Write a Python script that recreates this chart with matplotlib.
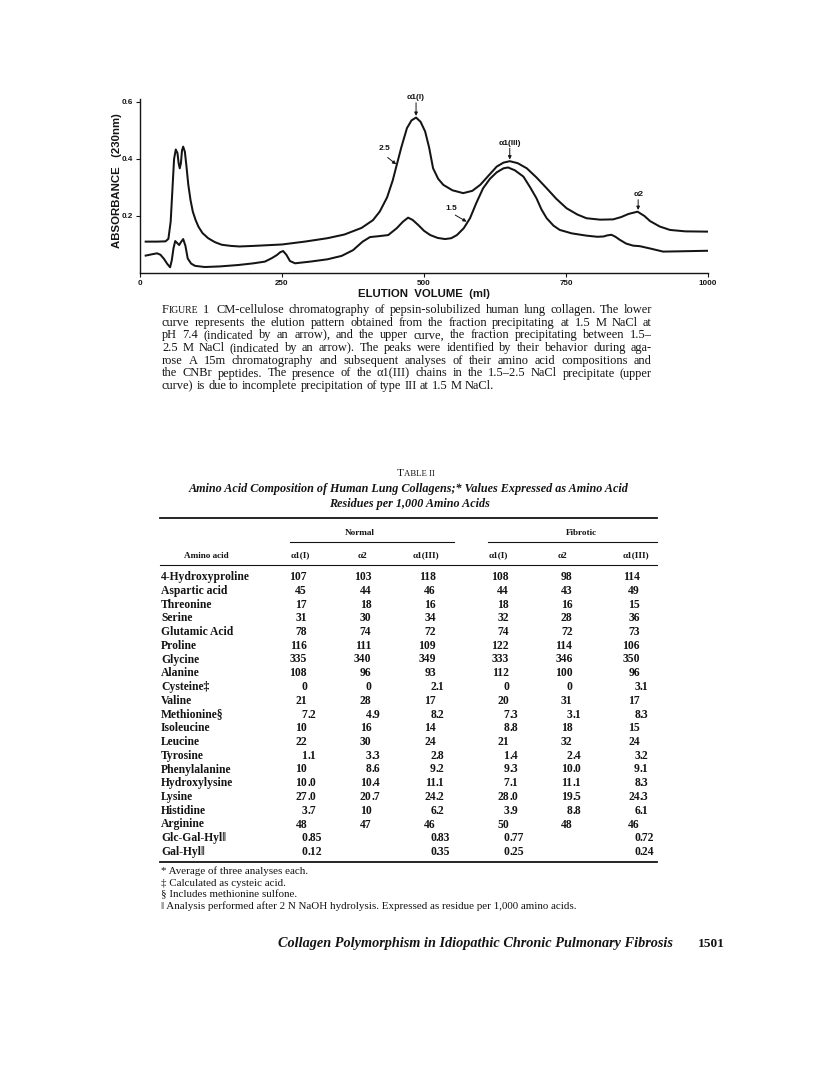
import matplotlib
matplotlib.use("Agg")
import matplotlib.pyplot as plt

# ---------------- data ----------------
# Upper curve (fraction precipitating between 1.5-2.5 M NaCl)
upper_x = [10, 30, 45, 50, 54, 57, 60, 63, 66, 68, 70, 72, 74, 76, 79, 82, 85, 89, 93, 98,
           103, 110, 120, 132, 144, 160, 175, 200, 250, 290, 330, 360, 390, 410, 422, 435,
           445, 452, 460, 470, 478, 486, 494, 502, 509, 516, 525, 534, 550, 569, 585, 599,
           613, 628, 640, 651, 665, 681, 698, 716, 733, 751, 770, 786, 810, 833, 847, 860,
           876, 888, 898, 915, 933, 960, 1000]
upper_y = [0.110, 0.110, 0.111, 0.120, 0.180, 0.290, 0.400, 0.433, 0.420, 0.385, 0.367, 0.385,
           0.430, 0.443, 0.425, 0.370, 0.310, 0.255, 0.215, 0.185, 0.162, 0.140, 0.122, 0.108,
           0.099, 0.095, 0.093, 0.095, 0.100, 0.110, 0.122, 0.135, 0.158, 0.185, 0.215, 0.265,
           0.325, 0.379, 0.440, 0.508, 0.535, 0.545, 0.530, 0.496, 0.440, 0.367, 0.330, 0.309,
           0.290, 0.280, 0.288, 0.309, 0.340, 0.373, 0.387, 0.392, 0.385, 0.367, 0.335, 0.297,
           0.260, 0.227, 0.205, 0.192, 0.187, 0.188, 0.196, 0.207, 0.215, 0.200, 0.182, 0.163,
           0.151, 0.146, 0.145]
# Lower curve (fraction precipitating at 1.5 M NaCl)
lower_x = [10, 22, 30, 36, 42, 48, 53, 56, 59, 62, 65, 69, 72, 76, 80, 84, 90, 97, 114, 140,
           173, 200, 220, 232, 241, 247, 252, 258, 264, 273, 300, 330, 355, 375, 392, 405, 420,
           437, 452, 463, 472, 480, 490, 500, 511, 524, 537, 548, 558, 570, 581, 592, 604, 616,
           628, 640, 648, 660, 675, 687, 698, 707, 716, 728, 739, 760, 786, 805, 816, 823, 830,
           837, 845, 856, 868, 880, 900, 921, 950, 1000]
lower_y = [0.061, 0.066, 0.069, 0.064, 0.050, 0.032, 0.020, 0.045, 0.087, 0.112, 0.106, 0.098,
           0.108, 0.119, 0.095, 0.051, 0.033, 0.025, 0.021, 0.023, 0.028, 0.034, 0.040, 0.052,
           0.063, 0.073, 0.077, 0.063, 0.042, 0.034, 0.040, 0.048, 0.060, 0.080, 0.110, 0.126,
           0.129, 0.133, 0.157, 0.180, 0.194, 0.186, 0.168, 0.148, 0.133, 0.123, 0.119, 0.122,
           0.133, 0.157, 0.192, 0.245, 0.297, 0.330, 0.353, 0.367, 0.370, 0.360, 0.338, 0.300,
           0.262, 0.222, 0.192, 0.166, 0.151, 0.139, 0.131, 0.127, 0.128, 0.132, 0.134, 0.127,
           0.116, 0.103, 0.096, 0.094, 0.085, 0.075, 0.076, 0.078]

x_ticks = [0, 250, 500, 750, 1000]
x_tick_labels = ["0", "250", "500", "750", "1000"]
y_ticks = [0.2, 0.4, 0.6]
y_tick_labels = ["0.2", "0.4", "0.6"]

peak_labels = ["α1(I)", "α1(III)", "α2"]
peak_x = [486, 651, 877]
peak_y = [0.545, 0.392, 0.215]
curve_labels = ["2.5", "1.5"]

amino_acids = ["4-Hydroxyproline", "Aspartic acid", "Threonine", "Serine", "Glutamic Acid",
               "Proline", "Glycine", "Alanine", "Cysteine‡", "Valine", "Methionine§",
               "Isoleucine", "Leucine", "Tyrosine", "Phenylalanine", "Hydroxylysine", "Lysine",
               "Histidine", "Arginine", "Glc-Gal-Hyl‖", "Gal-Hyl‖"]
normal_a1I = ["107", "45", "17", "31", "78", "116", "335", "108", "0", "21", "7.2", "10", "22",
              "1.1", "10", "10.0", "27.0", "3.7", "48", "0.85", "0.12"]
normal_a2 = ["103", "44", "18", "30", "74", "111", "340", "96", "0", "28", "4.9", "16", "30",
             "3.3", "8.6", "10.4", "20.7", "10", "47", "", ""]
normal_a1III = ["118", "46", "16", "34", "72", "109", "349", "93", "2.1", "17", "8.2", "14", "24",
                "2.8", "9.2", "11.1", "24.2", "6.2", "46", "0.83", "0.35"]
fibrotic_a1I = ["108", "44", "18", "32", "74", "122", "333", "112", "0", "20", "7.3", "8.8", "21",
                "1.4", "9.3", "7.1", "28.0", "3.9", "50", "0.77", "0.25"]
fibrotic_a2 = ["98", "43", "16", "28", "72", "114", "346", "100", "0", "31", "3.1", "18", "32",
               "2.4", "10.0", "11.1", "19.5", "8.8", "48", "", ""]
fibrotic_a1III = ["114", "49", "15", "36", "73", "106", "350", "96", "3.1", "17", "8.3", "15", "24",
                  "3.2", "9.1", "8.3", "24.3", "6.1", "46", "0.72", "0.24"]
column_headers = ["α1(I)", "α2", "α1(III)", "α1(I)", "α2", "α1(III)"]
group_headers = ["Normal", "Fibrotic"]

caption_lines = [
    "CM-cellulose chromatography of pepsin-solubilized human lung collagen. The lower",
    "curve represents the elution pattern obtained from the fraction precipitating at 1.5 M NaCl at",
    "pH 7.4 (indicated by an arrow), and the upper curve, the fraction precipitating between 1.5–",
    "2.5 M NaCl (indicated by an arrow). The peaks were identified by their behavior during aga-",
    "rose A 15m chromatography and subsequent analyses of their amino acid compositions and",
    "the CNBr peptides. The presence of the α1(III) chains in the 1.5–2.5 NaCl precipitate (upper",
    "curve) is due to incomplete precipitation of type III at 1.5 M NaCl.",
]
subtitle_lines = [
    "Amino Acid Composition of Human Lung Collagens;* Values Expressed as Amino Acid",
    "Residues per 1,000 Amino Acids",
]
footnotes = [
    "* Average of three analyses each.",
    "‡ Calculated as cysteic acid.",
    "§ Includes methionine sulfone.",
    "‖ Analysis performed after 2 N NaOH hydrolysis. Expressed as residue per 1,000 amino acids.",
]
footer_text = "Collagen Polymorphism in Idiopathic Chronic Pulmonary Fibrosis"
page_number = "1501"

# ---------------- figure ----------------
W, H = 816, 1082
fig = plt.figure(figsize=(W / 100, H / 100), dpi=100)
fig.patch.set_facecolor("white")
INK = "#141414"
SERIF = ["Liberation Serif", "DejaVu Serif"]
SANS = ["Liberation Sans", "DejaVu Sans"]


def fx(px):
    return px / W


def fy(py):
    return 1 - py / H


# ---- chromatogram ----
ax = fig.add_axes([fx(140), fy(273), (708 - 140) / W, (273 - 99) / H])
ax.plot(upper_x, upper_y, color=INK, lw=1.45, solid_joinstyle="round")
ax.plot(lower_x, lower_y, color=INK, lw=1.45, solid_joinstyle="round")
ax.set_xlim(0, 1000)
ax.set_ylim(0, 0.61)
for s in ["top", "right"]:
    ax.spines[s].set_visible(False)
for s in ["left", "bottom"]:
    ax.spines[s].set_linewidth(1.0)
    ax.spines[s].set_color(INK)
ax.set_xticks(x_ticks)
ax.set_xticklabels(x_tick_labels, family=SANS, fontsize=5.8, fontweight="bold")
ax.set_yticks(y_ticks)
ax.set_yticklabels(y_tick_labels, family=SANS, fontsize=5.8, fontweight="bold")
ax.tick_params(length=3, width=0.8, pad=2, colors=INK)

fig.text(fx(424), fy(294), "ELUTION  VOLUME  (ml)", ha="center", va="center",
         family=SANS, fontsize=8.2, fontweight="bold", color=INK)
fig.text(fx(117), fy(181), "ABSORBANCE   (230nm)", ha="center", va="center", rotation=90,
         family=SANS, fontsize=8.2, fontweight="bold", color=INK)

arrow_kw = dict(arrowstyle="-|>", lw=0.7, color=INK, mutation_scale=5, shrinkA=0, shrinkB=0)
label_off = [0.07, 0.063, 0.06]
for lab, px_, py_, off in zip(peak_labels, peak_x, peak_y, label_off):
    ax.annotate("", xy=(px_, py_ + 0.006), xytext=(px_, py_ + off - 0.018),
                arrowprops=arrow_kw, annotation_clip=False)
    ax.text(px_, py_ + off, lab, ha="center", va="center", family=SANS, fontsize=6,
            fontweight="bold", color=INK, clip_on=False)
ax.text(430, 0.437, curve_labels[0], ha="center", va="center", family=SANS, fontsize=6,
        fontweight="bold", color=INK)
ax.annotate("", xy=(451, 0.381), xytext=(436, 0.405), arrowprops=arrow_kw)
ax.text(548, 0.227, curve_labels[1], ha="center", va="center", family=SANS, fontsize=6,
        fontweight="bold", color=INK)
ax.annotate("", xy=(575, 0.180), xytext=(555, 0.203), arrowprops=arrow_kw)

# ---------------- text helpers ----------------
fig.canvas.draw()
R = fig.canvas.get_renderer()


def width_px(s, **kw):
    t = fig.text(0, 0, s, **kw)
    w = t.get_window_extent(renderer=R).width
    t.remove()
    return w


def place_runs(runs, y, x0, x1=None, justify=True):
    """runs: list of words; each word is list of (text, props)."""
    widths = [[width_px(s, **p) for s, p in word] for word in runs]
    tot = sum(sum(w) for w in widths)
    if justify and x1 is not None and len(runs) > 1:
        gap = (x1 - x0 - tot) / (len(runs) - 1)
    else:
        p0 = runs[0][0][1]
        gap = width_px("a a", **p0) - width_px("aa", **p0)
    x = x0
    for word, ws in zip(runs, widths):
        for (s, p), w in zip(word, ws):
            fig.text(fx(x), fy(y), s, ha="left", va="baseline", **p)
            x += w
        x += gap


# ---- caption (justified) ----
L0, L1 = 162, 652
base = dict(family=SERIF, fontsize=10, color=INK)
nat = max(width_px(l, **base) for l in ["FIGURE 1 " + caption_lines[0]] + caption_lines[1:6])
cap_fs = 10 * (L1 - L0 - 8) / nat
cap = dict(family=SERIF, fontsize=cap_fs, color=INK)
cap_small = dict(family=SERIF, fontsize=cap_fs * 0.78, color=INK)
cap_y0, cap_dy = 313, 12.7
for i, line in enumerate(caption_lines):
    words = [[(w, cap)] for w in line.split(" ")]
    if i == 0:
        words = [[("F", cap), ("IGURE", cap_small)], [("1 ", cap)]] + words
    place_runs(words, cap_y0 + i * cap_dy, L0, L1, justify=(i < len(caption_lines) - 1))

# ---- table ----
T0, T1 = 160, 657
title_big = dict(family=SERIF, fontsize=8.2, color=INK)
title_small = dict(family=SERIF, fontsize=6.3, color=INK)
tw = width_px("T", **title_big) + width_px("ABLE II", **title_small)
place_runs([[("T", title_big), ("ABLE II", title_small)]], 476, 416 - tw / 2, justify=False)
for i, line in enumerate(subtitle_lines):
    fig.text(fx(409), fy(492 + i * 14.5), line, ha="center", va="baseline", family=SERIF,
             fontsize=8.75, style="italic", fontweight="bold", color=INK)


def hline(y, xa, xb, lw):
    fig.add_artist(plt.Line2D([fx(xa), fx(xb)], [fy(y), fy(y)], color=INK, lw=lw))


hline(518, T0, T1, 1.3)
hline(542, 290, 454, 0.8)
hline(542, 488, T1, 0.8)
hline(565, T0, T1, 0.8)
hline(862, T0, T1, 1.3)

hdr = dict(family=SERIF, fontsize=6.6, fontweight="bold", color=INK)
fig.text(fx(360), fy(535), group_headers[0], ha="center", va="baseline", **hdr)
fig.text(fx(581), fy(535), group_headers[1], ha="center", va="baseline", **hdr)
fig.text(fx(206), fy(557.5), "Amino acid", ha="center", va="baseline", **hdr)
hdr_x = [300, 363, 426, 498, 563, 636]
for h, xh in zip(column_headers, hdr_x):
    fig.text(fx(xh), fy(557.5), h, ha="center", va="baseline", **hdr)

body = dict(family=SERIF, fontsize=8.4, fontweight="bold", color=INK)
cols = [normal_a1I, normal_a2, normal_a1III, fibrotic_a1I, fibrotic_a2, fibrotic_a1III]
col_edge = [307, 371.5, 436, 509, 572.5, 640]
row_y0, row_dy = 580, 13.75
for r, name in enumerate(amino_acids):
    yb = row_y0 + r * row_dy
    fig.text(fx(161), fy(yb), name, ha="left", va="baseline", **body)
    for col, xe in zip(cols, col_edge):
        v = col[r]
        if not v:
            continue
        if "." in v:
            ip, fp = v.split(".")
            fig.text(fx(xe), fy(yb), ip, ha="right", va="baseline", **body)
            fig.text(fx(xe), fy(yb), "." + fp, ha="left", va="baseline", **body)
        else:
            fig.text(fx(xe), fy(yb), v, ha="right", va="baseline", **body)

fn = dict(family=SERIF, fontsize=7.9, color=INK)
for i, t in enumerate(footnotes):
    fig.text(fx(161), fy(874 + i * 11.8), t, ha="left", va="baseline", **fn)

fig.text(fx(673), fy(947), footer_text, ha="right", va="baseline", family=SERIF, fontsize=10.3,
         style="italic", fontweight="bold", color=INK)
fig.text(fx(698), fy(947), page_number, ha="left", va="baseline", family=SERIF, fontsize=9.6,
         fontweight="bold", color=INK)

fig.savefig("out.png", dpi=100, facecolor="white")
